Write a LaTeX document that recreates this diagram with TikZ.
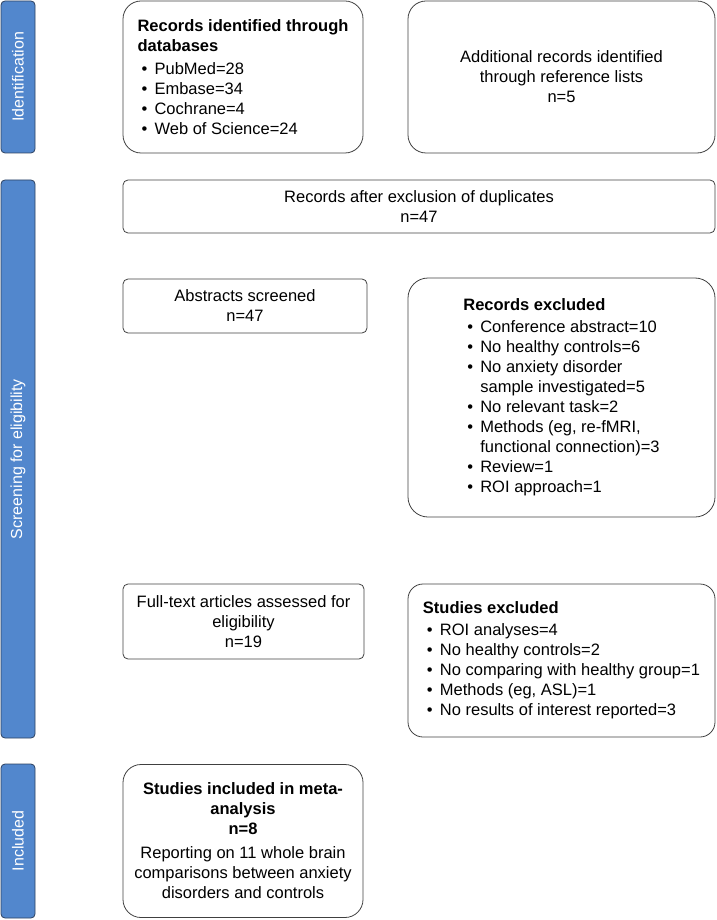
\documentclass[tikz,border=0pt]{standalone}
\usepackage{fontspec}
\setmainfont{Liberation Sans}
\usetikzlibrary{positioning}
\definecolor{barblue}{RGB}{82,135,205}
\definecolor{bardark}{RGB}{45,65,95}
\newcommand{\bul}{\hspace*{4pt}\makebox[13pt][l]{\textbullet}}
\newcommand{\cont}{\hspace*{17pt}}

\begin{document}
\begin{tikzpicture}[
            node distance=27pt and 88pt,
            bar/.style={rectangle, draw=bardark, fill=barblue, rounded corners=4pt, line width=0.8pt, minimum width=34pt, inner sep=0pt, outer sep=0pt, text=white, font=\fontsize{16}{19}\selectfont},
            block/.style={rectangle, draw=black!75, rounded corners=5pt, line width=0.8pt, inner sep=0pt, outer sep=0pt, align=center, font=\fontsize{16.5}{20}\selectfont},
            listblock/.style={block, rounded corners=18pt, align=left}
        ]
            % Phase bars
            \node[bar, minimum height=152pt] (idbar) {\rotatebox{90}{Identification}};
            \node[bar, minimum height=558pt, below=of idbar] (scrbar) {\rotatebox{90}{Screening for eligibility}};
            \node[bar, minimum height=154pt, below=26pt of scrbar] (incbar) {\rotatebox{90}{Included}};
            \useasboundingbox ([shift={(-1pt,1pt)}]idbar.north west) rectangle ++(716pt,-920pt);
            
            % Identification
            \node[listblock, minimum width=240pt, minimum height=152pt, right=of idbar] (dbbox) {\textbf{Records identified through}\\ \textbf{databases}\\[3pt] \bul PubMed=28\\ \bul Embase=34\\ \bul Cochrane=4\\ \bul Web of Science=24};
            \node[listblock, align=center, minimum width=307pt, minimum height=152pt, right=45pt of dbbox] (refbox) {Additional records identified\\ through reference lists\\ n=5};
            
            % Screening
            \node[block, minimum width=592pt, minimum height=53pt, below=of dbbox.south west, anchor=north west] (dupbox) {Records after exclusion of duplicates\\ n=47};
            \node[block, minimum width=244pt, minimum height=54pt, below=46pt of dupbox.south west, anchor=north west] (absbox) {Abstracts screened\\ n=47};
            \node[listblock, rounded corners=20pt, minimum width=307pt, minimum height=239pt, below=45pt of dupbox.south east, anchor=north east] (recexbox) {\textbf{Records excluded}\\[2pt] \bul Conference abstract=10\\ \bul No healthy controls=6\\ \bul No anxiety disorder\\ \cont sample investigated=5\\ \bul No relevant task=2\\ \bul Methods (eg, re-fMRI,\\ \cont functional connection)=3\\ \bul Review=1\\ \bul ROI approach=1};
            \node[block, minimum width=241pt, minimum height=75pt, below=251pt of absbox.south west, anchor=north west] (ftbox) {Full-text articles assessed for\\ eligibility\\ n=19};
            \node[listblock, rounded corners=15pt, minimum width=307pt, minimum height=153pt, below=67pt of recexbox.south east, anchor=north east] (stexbox) {\textbf{Studies excluded}\\[2pt] \bul ROI analyses=4\\ \bul No healthy controls=2\\ \bul No comparing with healthy group=1\\ \bul Methods (eg, ASL)=1\\ \bul No results of interest reported=3};
            
            % Included
            \node[listblock, align=center, minimum width=240pt, minimum height=153pt, right=of incbar] (incbox) {\textbf{Studies included in meta-}\\ \textbf{analysis}\\ \textbf{n=8}\\[4pt] Reporting on 11 whole brain\\ comparisons between anxiety\\ disorders and controls};
        \end{tikzpicture}
\end{document}
